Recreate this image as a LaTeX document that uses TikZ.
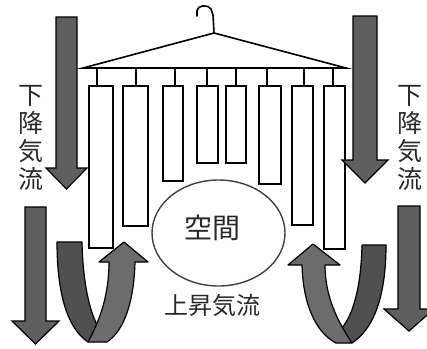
\documentclass[tikz,border=0pt]{standalone}
\usepackage{fontspec}
\newfontfamily\jp{Noto Sans CJK JP}
\definecolor{arrowgray}{RGB}{95,95,95}
\definecolor{udark}{RGB}{80,80,80}
\definecolor{ulight}{RGB}{108,108,108}
\definecolor{txt}{RGB}{40,40,40}
\begin{document}
\begin{tikzpicture}[x=1pt,y=-1pt,
  cloth/.style={draw=black, line width=1.6pt, fill=white},
  hang/.style={draw=black, line width=1.6pt},
  arr/.style={draw=black, line width=1.2pt, fill=arrowgray, line join=miter},
  uband/.style={draw=black, line width=1.2pt, line join=round},
  lbl/.style={text=txt, inner sep=0pt}]
\useasboundingbox (0,0) rectangle (427,348);

% hanger
\draw[hang, line join=miter] (83,68) -- (214,33) -- (346,68) -- cycle;
\draw[hang, line cap=round] (197,16) -- (197,11) .. controls (197,5) and (208,4) .. (211,9) -- (213,15) -- (214,33);
\foreach \x in {97,136,175,207,236,267,304,333}
  \draw[hang] (\x,68) -- (\x,86);

% clothes
\draw[cloth] (89,86) rectangle (113,248);
\draw[cloth] (123,86) rectangle (148,226);
\draw[cloth] (163,86) rectangle (183,181);
\draw[cloth] (197,86) rectangle (218,163);
\draw[cloth] (226,86) rectangle (246,163);
\draw[cloth] (259,86) rectangle (281,184);
\draw[cloth] (292,86) rectangle (313,225);
\draw[cloth] (324,86) rectangle (345,249);

% space ellipse
\draw[draw=black!75, line width=1.4pt] (218.5,233) ellipse [x radius=66.5, y radius=53];
\node[lbl, font=\jp\fontsize{28}{30}\selectfont] (space) at (212,228) {空間};
\node[lbl, font=\jp\fontsize{24}{26}\selectfont] (updraft) at (212,305) {上昇気流};

% straight downward arrows
\draw[arr] (56,17) -- (77,17) -- (77,168) -- (87,168) -- (66.5,189) -- (46,168) -- (56,168) -- cycle;
\draw[arr] (353,16) -- (377,16) -- (377,160) -- (388,160) -- (365,183) -- (342,160) -- (353,160) -- cycle;
\draw[arr] (25,207) -- (46,207) -- (46,321) -- (59,321) -- (35.5,344) -- (12,321) -- (25,321) -- cycle;
\draw[arr] (398,206) -- (420,206) -- (420,309) -- (434,309) -- (409,331) -- (384,309) -- (398,309) -- cycle;

% vertical labels
\node[lbl, anchor=north, align=center, font=\jp\fontsize{25}{28}\selectfont] (downL) at (31,85) {下\\降\\気\\流};
\node[lbl, anchor=north, align=center, font=\jp\fontsize{25}{28}\selectfont] (downR) at (410,85) {下\\降\\気\\流};

% left U-turn arrow
\draw[uband, fill=udark] (57,242) -- (82,242) .. controls (83,290) and (92,318) .. (100,330) -- (88,342) .. controls (70,330) and (57,300) .. (57,242) -- cycle;
\draw[uband, fill=ulight] (109,262) -- (99,262) -- (124,242) -- (148,262) -- (135,262) .. controls (134,300) and (125,330) .. (107,342) -- (88,342) .. controls (100,320) and (109,295) .. (109,262) -- cycle;

% right U-turn arrow
\draw[uband, fill=udark] (386,245) -- (362,245) .. controls (361,290) and (352,318) .. (340,330) -- (352,343) .. controls (372,330) and (386,300) .. (386,245) -- cycle;
\draw[uband, fill=ulight] (325,265) -- (340,265) -- (313,244) -- (288,265) -- (302,265) .. controls (303,303) and (315,332) .. (336,343) -- (352,343) .. controls (338,322) and (325,297) .. (325,265) -- cycle;
\end{tikzpicture}
\end{document}
